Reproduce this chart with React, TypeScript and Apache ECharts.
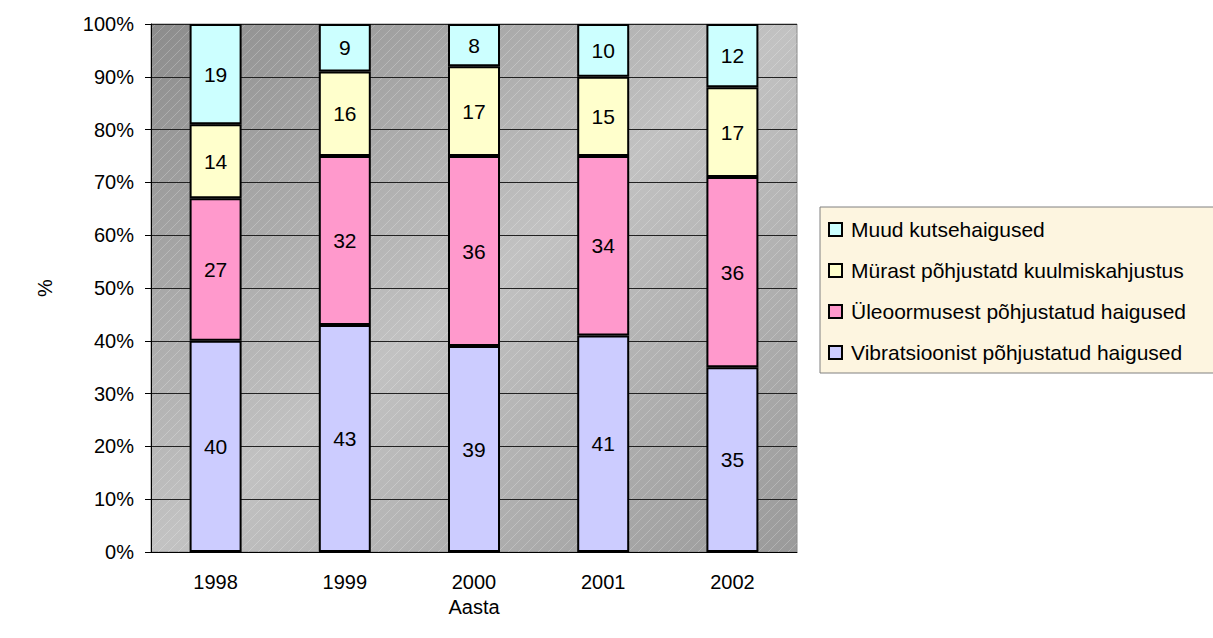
import React, { useEffect, useRef } from "react";
import * as echarts from "echarts";

const years = ["1998", "1999", "2000", "2001", "2002"];
const seriesNames = [
  "Vibratsioonist põhjustatud haigused",
  "Üleoormusest põhjustatud haigused",
  "Mürast põhjustatd kuulmiskahjustus",
  "Muud kutsehaigused",
];
const vibratsioon = [40, 43, 39, 41, 35];
const uleoormus = [27, 32, 36, 34, 36];
const myra = [14, 16, 17, 15, 17];
const muud = [19, 9, 8, 10, 12];
const colors = ["#CCCCFF", "#FF99CC", "#FFFFCC", "#CCFFFF"];
const yTicks = [0, 10, 20, 30, 40, 50, 60, 70, 80, 90, 100];

const FONT = "'Liberation Sans', Arial, sans-serif";

export default function App() {
  const ref = useRef<HTMLDivElement>(null);
  useEffect(() => {
    if (!ref.current) return;
    const chart = echarts.init(ref.current, undefined, { renderer: "svg" });
    const values = [vibratsioon, uleoormus, myra, muud];
    const hatch =
      "data:image/svg+xml;utf8," +
      encodeURIComponent(
        "<svg xmlns='http://www.w3.org/2000/svg' width='10' height='10'><path d='M-1,11 L11,-1' stroke='rgba(255,255,255,0.28)' stroke-width='0.8'/></svg>"
      );
    const gridLeft = 151;
    const gridTop = 24;
    const gridRight = 416;
    const gridBottom = 86;
    chart.setOption({
      animation: false,
      textStyle: { fontFamily: FONT },
      grid: {
        left: gridLeft,
        top: gridTop,
        right: gridRight,
        bottom: gridBottom,
        show: true,
        borderColor: "#8a8a8a",
        borderWidth: 1,
        backgroundColor: {
          type: "linear",
          x: 0,
          y: 0,
          x2: 1,
          y2: 1,
          colorStops: [
            { offset: 0, color: "#8c8c8c" },
            { offset: 0.5, color: "#c2c2c2" },
            { offset: 1, color: "#9a9a9a" },
          ],
        },
      },
      graphic: [
        {
          type: "rect",
          z: 0,
          silent: true,
          shape: {
            x: gridLeft,
            y: gridTop,
            width: 1213 - gridLeft - gridRight,
            height: 638 - gridTop - gridBottom,
          },
          style: { fill: { image: hatch, repeat: "repeat" } as any },
        },
      ],
      legend: {
        orient: "vertical",
        left: 820,
        top: 207,
        data: [...seriesNames].reverse(),
        backgroundColor: "#FDF5E0",
        borderColor: "#808080",
        borderWidth: 1,
        padding: [12, 60, 10, 8],
        itemWidth: 13,
        itemHeight: 13,
        itemGap: 20,
        icon: "rect",
        textStyle: { fontFamily: FONT, fontSize: 21, color: "#000", padding: [0, 0, 0, 4] },
      },
      xAxis: {
        type: "category",
        data: years,
        name: "Aasta",
        nameLocation: "middle",
        nameGap: 42,
        nameTextStyle: { fontFamily: FONT, fontSize: 20, color: "#000" },
        axisLine: { lineStyle: { color: "#000", width: 1 } },
        axisTick: { length: 6, lineStyle: { color: "#000" } },
        axisLabel: { fontFamily: FONT, fontSize: 20, color: "#000", margin: 20 },
        splitLine: { show: false },
      },
      yAxis: {
        type: "value",
        min: 0,
        max: 100,
        interval: 10,
        name: "%",
        nameLocation: "middle",
        nameGap: 96,
        nameTextStyle: { fontFamily: FONT, fontSize: 20, color: "#000" },
        axisLine: { show: true, lineStyle: { color: "#000", width: 1 } },
        axisTick: { show: true, length: 6, lineStyle: { color: "#000" } },
        axisLabel: {
          fontFamily: FONT,
          fontSize: 20,
          color: "#000",
          margin: 17,
          formatter: (v: number) => (yTicks.includes(v) ? v + "%" : ""),
        },
        splitLine: { show: true, lineStyle: { color: "#222", width: 1 } },
      },
      series: seriesNames.map((name, i) => ({
        name,
        type: "bar",
        stack: "total",
        barWidth: 52,
        data: values[i],
        itemStyle: { color: colors[i], borderColor: "#000", borderWidth: 2 },
        label: {
          show: true,
          position: "inside",
          color: "#000",
          fontFamily: FONT,
          fontSize: 21,
        },
      })),
    });
    return () => chart.dispose();
  }, []);
  return (
    <div
      ref={ref}
      style={{ position: "fixed", left: 0, top: 0, width: 1213, height: 638, background: "#fff" }}
    />
  );
}
